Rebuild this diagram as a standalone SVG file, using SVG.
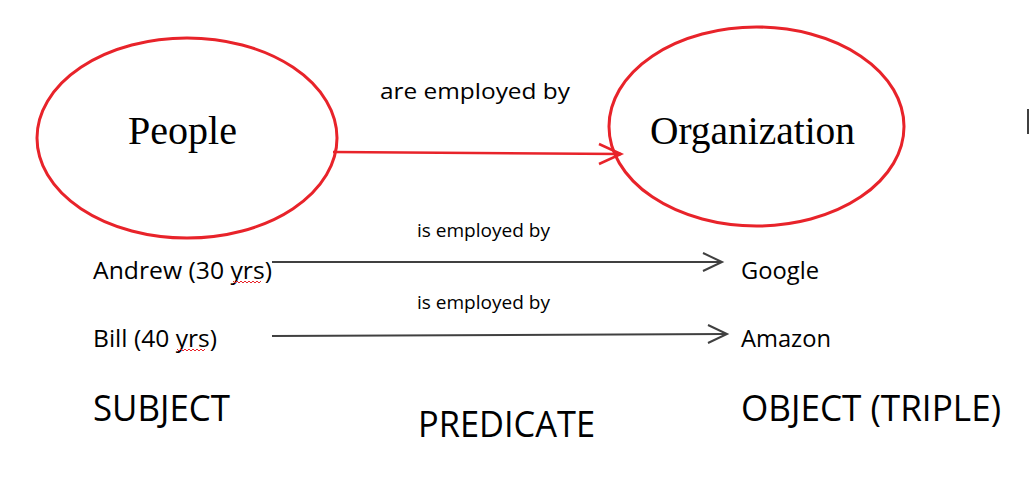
<svg xmlns="http://www.w3.org/2000/svg" width="1029" height="498" viewBox="0 0 1029 498">
<style>
.node{fill:none;stroke:#e8232a;stroke-width:3}
.tnr{font-family:"Liberation Serif","Times New Roman",serif;font-size:40px;fill:#000}
.sans{font-family:"Open Sans","Noto Sans","Liberation Sans",sans-serif;fill:#000}
.red{fill:none;stroke:#e8232a;stroke-width:2.5}
.blk{fill:none;stroke:#404040;stroke-width:2}
.sq{fill:none;stroke:#e8232a;stroke-width:1}
</style>
<rect width="1029" height="498" fill="#fff"/>
<g id="people">
<ellipse class="node" cx="187" cy="138" rx="150" ry="100"/>
<text class="tnr" x="128" y="144" textLength="109" lengthAdjust="spacingAndGlyphs">People</text>
</g>
<g id="organization">
<ellipse class="node" cx="756.5" cy="126.5" rx="147.5" ry="99.5"/>
<text class="tnr" x="650" y="144" textLength="205" lengthAdjust="spacingAndGlyphs">Organization</text>
</g>
<g id="andrew">
<text class="sans" x="93" y="279" font-size="23" textLength="179" lengthAdjust="spacingAndGlyphs">Andrew (30 yrs)</text>
<path class="sq" d="M233 281 l2 2 l2 -2 l2 2 l2 -2 l2 2 l2 -2 l2 2 l2 -2 l2 2 l2 -2 l2 2 l2 -2 l2 2 l2 -2"/>
</g>
<g id="bill">
<text class="sans" x="93" y="347" font-size="23" textLength="124" lengthAdjust="spacingAndGlyphs">Bill (40 yrs)</text>
<path class="sq" d="M177 349 l2 2 l2 -2 l2 2 l2 -2 l2 2 l2 -2 l2 2 l2 -2 l2 2 l2 -2 l2 2 l2 -2 l2 2 l2 -2"/>
</g>
<g id="google">
<text class="sans" x="741" y="279" font-size="23" textLength="78" lengthAdjust="spacingAndGlyphs">Google</text>
</g>
<g id="amazon">
<text class="sans" x="741" y="347" font-size="23" textLength="90" lengthAdjust="spacingAndGlyphs">Amazon</text>
</g>
<g id="connectors">
<path class="red" d="M333 152 L621 154"/>
<path class="red" d="M599 144 L621 154 L599 164"/>
<text class="sans" x="380" y="99" font-size="22" textLength="190" lengthAdjust="spacingAndGlyphs">are employed by</text>
<path class="blk" d="M272 262 L722 262"/>
<path class="blk" d="M703 253 L722 262 L703 271"/>
<text class="sans" x="417" y="237" font-size="19" textLength="133" lengthAdjust="spacingAndGlyphs">is employed by</text>
<path class="blk" d="M272 336 L727 334"/>
<path class="blk" d="M708 325 L727 334 L708 343"/>
<text class="sans" x="417" y="309" font-size="19" textLength="133" lengthAdjust="spacingAndGlyphs">is employed by</text>
</g>
<g id="labels">
<text class="sans" x="93" y="421" font-size="36" textLength="137" lengthAdjust="spacingAndGlyphs">SUBJECT</text>
<text class="sans" x="418" y="437" font-size="36" textLength="177" lengthAdjust="spacingAndGlyphs">PREDICATE</text>
<text class="sans" x="741" y="421" font-size="36" textLength="260" lengthAdjust="spacingAndGlyphs">OBJECT (TRIPLE)</text>
</g>
<line x1="1028" y1="109" x2="1028" y2="134" stroke="#000" stroke-width="1.5"/>
</svg>
